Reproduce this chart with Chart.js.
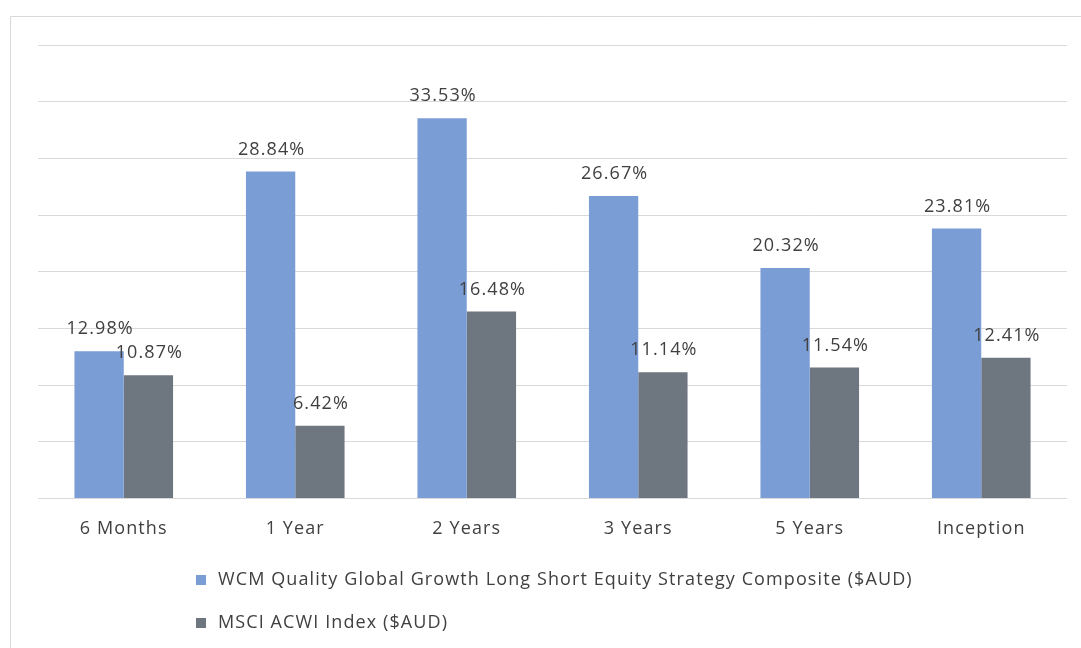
<!DOCTYPE html>
<html><head><meta charset="utf-8">
<script src="https://cdn.jsdelivr.net/npm/chart.js@4"></script>
<style>html,body{margin:0;padding:0;background:#fff}#wrap{width:1081px;height:648px;position:relative}</style>
</head><body><div id="wrap"><canvas id="c" width="1081" height="648"></canvas></div>
<script>
const categories = ["6 Months","1 Year","2 Years","3 Years","5 Years","Inception"];
const seriesNames = ["WCM Quality Global Growth Long Short Equity Strategy Composite ($AUD)","MSCI ACWI Index ($AUD)"];
const wcmValues = [12.98,28.84,33.53,26.67,20.32,23.81];
const msciValues = [10.87,6.42,16.48,11.14,11.54,12.41];
const yTicks = [0,5,10,15,20,25,30,35,40];

const FONT = "'Open Sans', sans-serif";
const FSIZE = 18;
const SPACING = '1.1px';
const TXT = '#404040';
const colors = ['#7b9dd6','#6e7680'];

const borderPlugin = {
  id:'borderPlugin',
  beforeInit(chart){ chart.ctx.letterSpacing = SPACING; },
  beforeDraw(chart){
    const ctx = chart.ctx;
    ctx.letterSpacing = SPACING;
    ctx.save();
    ctx.fillStyle='#fff';ctx.fillRect(0,0,chart.width,chart.height);
    ctx.strokeStyle='#d9d9d9';ctx.lineWidth=1;
    ctx.beginPath();
    ctx.moveTo(10.5,chart.height+2);ctx.lineTo(10.5,16.5);ctx.lineTo(chart.width+2,16.5);
    ctx.stroke();
    ctx.restore();
  }
};
const labelPlugin = {
  id:'labelPlugin',
  afterDatasetsDraw(chart){
    const ctx = chart.ctx;
    ctx.save();
    ctx.letterSpacing = SPACING;
    ctx.font = FSIZE + "px " + FONT;
    ctx.fillStyle = TXT;
    ctx.textAlign='center';ctx.textBaseline='bottom';
    chart.data.datasets.forEach((ds,di)=>{
      chart.getDatasetMeta(di).data.forEach((bar,i)=>{
        ctx.fillText(ds.data[i].toFixed(2)+'%', bar.x+1, bar.y-13);
      });
    });
    ctx.restore();
  }
};
const legendPlugin = {
  id:'legendPlugin',
  afterDraw(chart){
    const ctx = chart.ctx;
    ctx.save();
    ctx.letterSpacing = SPACING;
    ctx.font = FSIZE + "px " + FONT;
    ctx.textAlign='left';ctx.textBaseline='middle';
    chart.data.datasets.forEach((ds,di)=>{
      const y = 580 + di*43;
      ctx.fillStyle = ds.backgroundColor;
      ctx.fillRect(196, y-5, 10, 10);
      ctx.fillStyle = TXT;
      ctx.fillText(ds.label, 218, y);
    });
    ctx.restore();
  }
};

new Chart(document.getElementById('c'),{
  type:'bar',
  data:{
    labels:categories,
    datasets:[
      {label:seriesNames[0],data:wcmValues,backgroundColor:colors[0]},
      {label:seriesNames[1],data:msciValues,backgroundColor:colors[1]}
    ]
  },
  options:{
    responsive:false,animation:false,
    layout:{padding:{left:38,right:14,top:45,bottom:96}},
    datasets:{bar:{categoryPercentage:0.575,barPercentage:1}},
    plugins:{legend:{display:false},tooltip:{enabled:false}},
    scales:{
      x:{grid:{display:false},border:{display:false},
         ticks:{color:TXT,font:{family:FONT,size:FSIZE},padding:12}},
      y:{min:0,max:40,afterBuildTicks(axis){axis.ticks=yTicks.map(v=>({value:v}));},
         grid:{color:'#d9d9d9',drawTicks:false},border:{display:false},
         ticks:{display:false}}
    }
  },
  plugins:[borderPlugin,labelPlugin,legendPlugin]
});
</script></body></html>
